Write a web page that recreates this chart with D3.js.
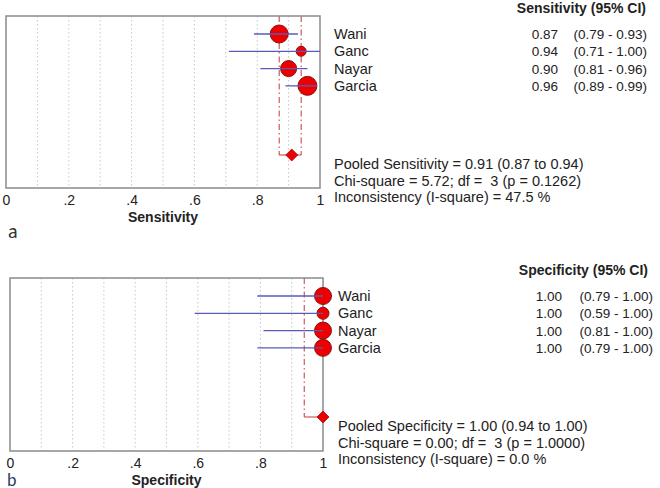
<!DOCTYPE html>
<html><head><meta charset="utf-8">
<script src="https://cdn.jsdelivr.net/npm/d3@7"></script>
<style>body{margin:0;background:#fff}svg{display:block;font-family:"Liberation Sans",Arial,sans-serif}</style>
</head><body>
<svg id="c" width="660" height="488"></svg>
<script>
const studies = ["Wani","Ganc","Nayar","Garcia"];
const sensEst = [0.87,0.94,0.90,0.96];
const sensLo = [0.79,0.71,0.81,0.89];
const sensHi = [0.93,1.00,0.96,0.99];
const sensWeight = [81,25,64,90];
const sensPooled = [0.91,0.87,0.94];
const specEst = [1.00,1.00,1.00,1.00];
const specLo = [0.79,0.59,0.81,0.79];
const specHi = [1.00,1.00,1.00,1.00];
const specWeight = [72,36,72,72];
const specPooled = [1.00,0.94,1.00];
const tickVals = [0,0.2,0.4,0.6,0.8,1];
const tickLabels = ["0",".2",".4",".6",".8","1"];
const gridVals = [0.1,0.2,0.3,0.4,0.5,0.6,0.7,0.8,0.9];

const svg = d3.select("#c");
const rScale = d3.scaleSqrt().domain([0,100]).range([0,10]);

function panel(cfg){
  const g = svg.append("g");
  const x = d3.scaleLinear().domain([0,1]).range([cfg.x0,cfg.x1]);
  const y = d3.scaleLinear().domain([0,7]).range([cfg.top+18,cfg.top+139]);
  g.selectAll(".grid").data(gridVals).join("line")
    .attr("x1",d=>x(d)).attr("x2",d=>x(d)).attr("y1",cfg.top).attr("y2",cfg.bottom)
    .attr("stroke","#c8c8c8").attr("stroke-dasharray","1.5,2.5");
  const [pe,pl,ph] = cfg.pooled;
  const dy = y(7);
  [pl,ph].filter(v=>v<1).forEach(v=>{
    g.append("line").attr("x1",x(v)).attr("x2",x(v)).attr("y1",cfg.top).attr("y2",dy)
      .attr("stroke","#c0393b").attr("stroke-width",1).attr("stroke-dasharray","6,3,1.5,3");
  });
  g.append("line").attr("x1",x(pl)).attr("x2",x(ph)).attr("y1",dy).attr("y2",dy)
    .attr("stroke","#c0393b").attr("stroke-width",1);
  g.append("rect").attr("x",cfg.x0).attr("y",cfg.top).attr("width",cfg.x1-cfg.x0).attr("height",cfg.bottom-cfg.top)
    .attr("fill","none").attr("stroke","#8a8a8a").attr("stroke-width",1.5);
  g.selectAll(".pt").data(studies).join("circle")
    .attr("cx",(d,i)=>x(cfg.est[i])).attr("cy",(d,i)=>y(i)).attr("r",(d,i)=>rScale(cfg.w[i]))
    .attr("fill","#ee0000").attr("stroke","#8b1010").attr("stroke-width",1);
  g.selectAll(".ci").data(studies).join("line")
    .attr("x1",(d,i)=>x(cfg.lo[i])).attr("x2",(d,i)=>x(cfg.hi[i]))
    .attr("y1",(d,i)=>y(i)).attr("y2",(d,i)=>y(i))
    .attr("stroke","#5a5ab8").attr("stroke-width",1.3);
  const ds=6;
  g.append("path").attr("d",`M${x(pe)-ds},${dy}L${x(pe)},${dy-ds}L${x(pe)+ds},${dy}L${x(pe)},${dy+ds}Z`)
    .attr("fill","#ee0000").attr("stroke","#a01010").attr("stroke-width",0.8);
  const ax = g.append("g").attr("transform",`translate(0,${cfg.bottom})`)
    .call(d3.axisBottom(x).tickValues(tickVals).tickFormat((d,i)=>tickLabels[i]).tickSize(0).tickPadding(7));
  ax.select(".domain").remove();
  ax.selectAll("text").attr("font-size",14).attr("fill","#222").attr("font-family","Liberation Sans, Arial, sans-serif");
  g.append("text").attr("x",(cfg.x0+cfg.x1)/2).attr("y",cfg.bottom+34).attr("text-anchor","middle")
    .attr("font-weight","bold").attr("font-size",14).attr("fill","#222").text(cfg.title);
  g.append("text").attr("x",cfg.letterX).attr("y",cfg.letterY).attr("font-size",cfg.letterSize)
    .attr("font-family","Carlito, Calibri, 'Open Sans', sans-serif").attr("fill",cfg.letterColor).text(cfg.letter);
  g.append("text").attr("x",cfg.hdrX).attr("y",cfg.top-3).attr("text-anchor","end")
    .attr("font-weight","bold").attr("font-size",14).attr("fill","#222").text(cfg.title+" (95% CI)");
  studies.forEach((s,i)=>{
    const yy=y(i)+5;
    g.append("text").attr("x",cfg.nameX).attr("y",yy).attr("font-size",14.5).attr("fill","#222").text(s);
    g.append("text").attr("x",cfg.valX).attr("y",yy).attr("font-size",13.5).attr("fill","#222").attr("text-anchor","end").text(cfg.est[i].toFixed(2));
    g.append("text").attr("x",cfg.ciX).attr("y",yy).attr("font-size",13.5).attr("fill","#222").attr("text-anchor","end")
      .text(`(${cfg.lo[i].toFixed(2)} - ${cfg.hi[i].toFixed(2)})`);
  });
  cfg.stats.forEach((t,k)=>{
    g.append("text").attr("x",cfg.nameX).attr("y",dy+14+k*16.5).attr("font-size",14.5).attr("fill","#222")
      .attr("xml:space","preserve").style("white-space","pre").text(t);
  });
}

panel({x0:6,x1:320,top:16,bottom:188,est:sensEst,lo:sensLo,hi:sensHi,w:sensWeight,pooled:sensPooled,
  title:"Sensitivity",letter:"a",letterX:8,letterY:238,letterSize:20,letterColor:"#333",hdrX:646,nameX:334,valX:558,ciX:647,
  stats:["Pooled Sensitivity = 0.91 (0.87 to 0.94)","Chi-square = 5.72; df =  3 (p = 0.1262)","Inconsistency (I-square) = 47.5 %"]});
panel({x0:10,x1:323,top:278,bottom:451,est:specEst,lo:specLo,hi:specHi,w:specWeight,pooled:specPooled,
  title:"Specificity",letter:"b",letterX:7,letterY:486,letterSize:18,letterColor:"#2b3f63",hdrX:648,nameX:338,valX:562,ciX:653,
  stats:["Pooled Specificity = 1.00 (0.94 to 1.00)","Chi-square = 0.00; df =  3 (p = 1.0000)","Inconsistency (I-square) = 0.0 %"]});
</script>
</body></html>
